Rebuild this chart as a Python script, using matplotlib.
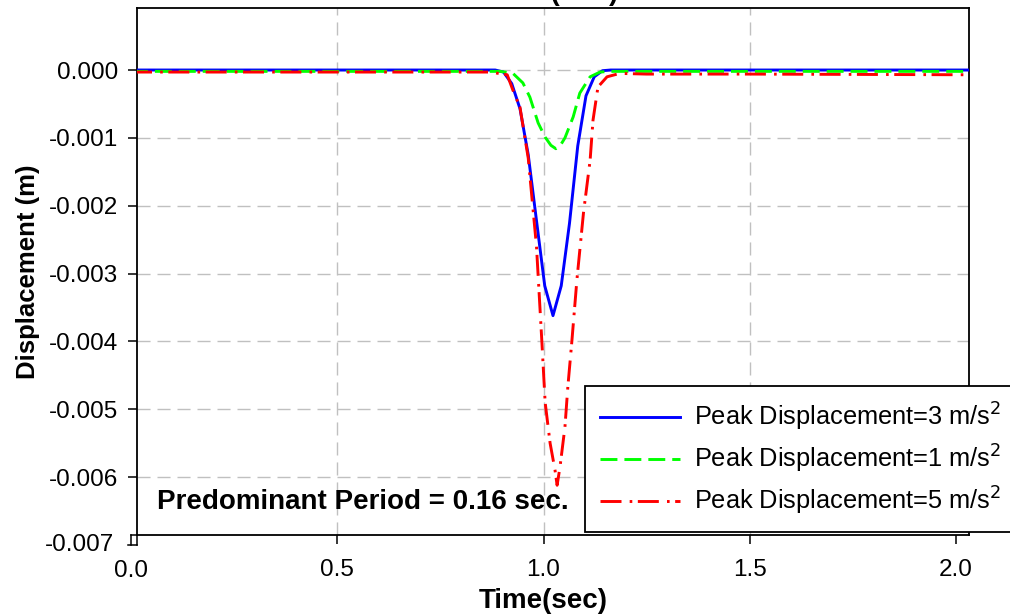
import matplotlib
matplotlib.use("Agg")
import matplotlib.pyplot as plt

plt.rcParams['font.family'] = ['Liberation Sans', 'DejaVu Sans']

# displacement histories (time in sec, displacement in m)
t_acc3 = [0.0, 0.5, 0.86, 0.883, 0.903, 0.923, 0.943, 0.963, 0.983, 1.003,
          1.023, 1.043, 1.063, 1.083, 1.103, 1.123, 1.143, 1.163, 1.5, 2.03]
d_acc3 = [0.0, 0.0, 0.0, 0.0, -0.00003, -0.00020, -0.00057, -0.00125, -0.00222,
          -0.00318, -0.00362, -0.00318, -0.00226, -0.00112, -0.00038, -0.00010,
          -0.00001, 0.0, 0.0, 0.0]

t_acc1 = [0.0, 0.5, 0.87, 0.895, 0.926, 0.95, 0.967, 0.987, 1.004, 1.018, 1.030,
          1.041, 1.052, 1.072, 1.088, 1.113, 1.137, 1.16, 1.5, 2.03]
d_acc1 = [-0.00002, -0.00002, -0.00002, -0.00002, -0.00005, -0.00019, -0.00040,
          -0.00078, -0.00099, -0.00111, -0.00116, -0.00111, -0.00100, -0.00069,
          -0.00034, -0.00010, -0.00003, -0.00002, -0.00002, -0.00002]

t_acc5 = [0.0, 0.5, 0.85, 0.87, 0.912, 0.926, 0.943, 0.963, 0.983, 0.996, 1.004,
          1.016, 1.028, 1.033, 1.040, 1.052, 1.059, 1.069, 1.081, 1.097, 1.113,
          1.120, 1.132, 1.154, 1.185, 1.25, 1.5, 2.03]
d_acc5 = [-0.00003, -0.00003, -0.00003, -0.00003, -0.00007, -0.00030, -0.00055,
          -0.00130, -0.00260, -0.00400, -0.00490, -0.00550, -0.00590, -0.00612,
          -0.00585, -0.00526, -0.00467, -0.00398, -0.00309, -0.00210, -0.00133,
          -0.00074, -0.00025, -0.00010, -0.00005, -0.00006, -0.00006, -0.00007]

labels = ['Peak Displacement=3 m/s$^2$',
          'Peak Displacement=1 m/s$^2$',
          'Peak Displacement=5 m/s$^2$']

x_ticks = [0.5, 1.0, 1.5, 2.0]
x_grid = [0.5, 1.0, 1.5]
y_ticks = [-0.006, -0.005, -0.004, -0.003, -0.002, -0.001, 0.0]

W, H = 1010, 615
fig = plt.figure(figsize=(W / 100, H / 100), dpi=100)
ax = fig.add_axes([137 / W, 1 - 535 / H, (969 - 137) / W, (535 - 8) / H])

ax.plot(t_acc3, d_acc3, color='#0000ff', lw=2.1, label=labels[0], zorder=3)
ax.plot(t_acc1, d_acc1, color='#00ff00', lw=2.1, dashes=(5.8, 2.4), label=labels[1],
        zorder=3)
ax.plot(t_acc5, d_acc5, color='#ff0000', lw=2.1, dashes=(7.2, 2.8, 0.9, 1.9),
        label=labels[2], zorder=3)

ax.set_xlim(0.01455, 2.0315)
ax.set_ylim(-0.006853, 0.000914)
ax.set_xticks(x_ticks)
ax.set_xticklabels(['%.1f' % v for v in x_ticks])
ax.set_yticks(y_ticks)
ax.set_yticklabels(['%.3f' % v for v in y_ticks])
ax.tick_params(direction='out', length=6.5, width=1.1, labelsize=17.5, colors='black')
ax.tick_params(axis='x', pad=11)
ax.tick_params(axis='y', pad=7)

# dashed grey grid: every y tick, x only at 0.5 / 1.0 / 1.5
ax.yaxis.grid(True, color='#c0c0c0', lw=1.0, dashes=(9.4, 5.0))
for gx in x_grid:
    ax.axvline(gx, color='#c0c0c0', lw=1.0, dashes=(9.4, 5.0), zorder=0.5)
for sp in ax.spines.values():
    sp.set_linewidth(1.3)
    sp.set_color('black')

# ticks at 0.0 and -0.007 sit just outside the frame
xt = ax.get_xaxis_transform()
yt = ax.get_yaxis_transform()
ax.plot([0.0, 0.0], [0.0, -0.019], transform=xt, color='black', lw=1.1, clip_on=False)
ax.plot([0.0, 0.01455], [0.0, 0.0], transform=xt, color='black', lw=1.1, clip_on=False)
ax.text(0.0, -0.047, '0.0', transform=xt, ha='center', va='top', fontsize=17.5,
        clip_on=False)
ax.plot([-0.011, 0.0], [-0.007, -0.007], transform=yt, color='black', lw=1.1,
        clip_on=False)
ax.plot([0.0, 0.0], [-0.007, -0.006853], transform=yt, color='black', lw=1.1,
        clip_on=False)
ax.text(-0.028, -0.007, '-0.007', transform=yt, ha='right', va='center',
        fontsize=17.5, clip_on=False)

ax.set_xlabel('Time(sec)', fontsize=20, fontweight='bold')
ax.xaxis.set_label_coords((543 - 137) / 832, -0.1)
ax.set_ylabel('Displacement (m)', fontsize=18.5, fontweight='bold')
ax.yaxis.set_label_coords(-0.117, 0.5)

ax.text(0.024, 0.0626, 'Predominant Period = 0.16 sec.', transform=ax.transAxes,
        fontsize=20, fontweight='bold', va='center', ha='left')

fig.text(618 / W, 1.0, 'Seismic Settlement (mm)', fontsize=20, fontweight='bold',
         ha='right', va='baseline')

leg = ax.legend(loc='upper left', bbox_to_anchor=(585 / W, 1 - 386 / H),
                bbox_transform=fig.transFigure, borderaxespad=0, fontsize=18.3,
                frameon=True, fancybox=False, framealpha=1, edgecolor='black',
                handlelength=3.15, handletextpad=0.55, borderpad=0.6,
                labelspacing=0.38)
leg.get_frame().set_linewidth(1.3)
leg.set_zorder(5)

fig.savefig('out.png', dpi=100)
